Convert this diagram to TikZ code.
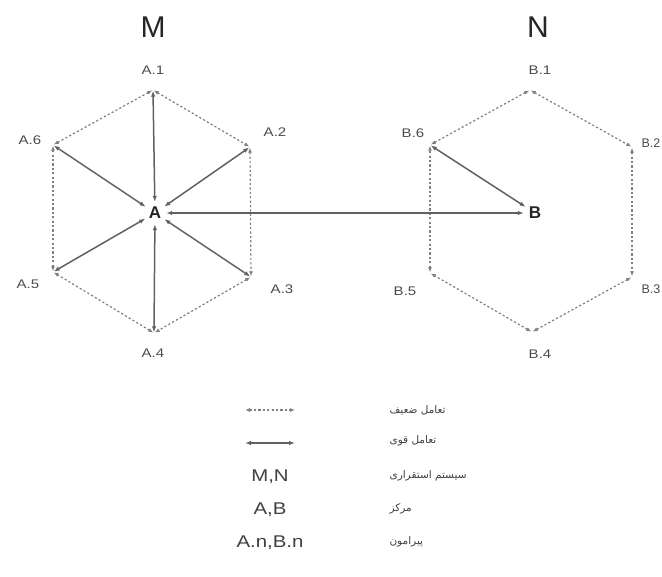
\documentclass[tikz,border=0pt]{standalone}
\usepackage{fontspec}
\setmainfont{Liberation Sans}
\newfontfamily\lblfont[FakeStretch=1.2]{Liberation Sans}
\newfontfamily\arabicfont[Script=Arabic]{DejaVu Sans}
\TeXXeTstate=1
\usetikzlibrary{arrows.meta}
\begin{document}
\begin{tikzpicture}[x=1pt,y=-1pt,
  vtx/.style={inner sep=0pt, minimum size=1pt},
  ctr/.style={circle, inner sep=0pt, minimum size=22pt, font=\bfseries\fontsize{17}{17}\selectfont, text=black!85},
  lbl/.style={font=\lblfont\fontsize{12.5}{12.5}\selectfont, text=black!70},
  ttl/.style={font=\fontsize{30}{30}\selectfont, text=black!85},
  strong/.style={draw=black!62, line width=1.5pt, {Latex[length=6pt,width=4.5pt]}-{Latex[length=6pt,width=4.5pt]}},
  weak/.style={draw=black!50, line width=1.2pt, dash pattern=on 2.2pt off 2.2pt, {Latex[length=5pt,width=4pt]}-{Latex[length=5pt,width=4pt]}},
  leg/.style={font=\lblfont\fontsize{17}{17}\selectfont, text=black!75},
  fa/.style={font=\arabicfont\fontsize{10.5}{10.5}\selectfont, text=black!75, anchor=west}
]
\useasboundingbox[fill=white] (0,0) rectangle (662,577);

% titles
\node[ttl] (M) at (153,27) {M};
\node[ttl] (N) at (538,27) {N};

% system M
\node[ctr] (A) at (155,213) {A};
\node[vtx] (A1) at (153,90) {};
\node[vtx] (A2) at (250,147) {};
\node[vtx] (A3) at (251,277) {};
\node[vtx] (A4) at (154,333) {};
\node[vtx] (A5) at (53,272) {};
\node[vtx] (A6) at (53,145) {};
\node[lbl] (lA1) at (153,70) {A.1};
\node[lbl] (lA2) at (275,132) {A.2};
\node[lbl] (lA3) at (282,289) {A.3};
\node[lbl] (lA4) at (153,353) {A.4};
\node[lbl] (lA5) at (28,284) {A.5};
\node[lbl] (lA6) at (30,140) {A.6};

\foreach \i in {1,...,6} \draw[strong] (A) -- (A\i);
\draw[weak] (A1) -- (A2);
\draw[weak] (A2) -- (A3);
\draw[weak] (A3) -- (A4);
\draw[weak] (A4) -- (A5);
\draw[weak] (A5) -- (A6);
\draw[weak] (A6) -- (A1);

% system N
\node[ctr] (B) at (535,213) {B};
\node[vtx] (B1) at (530,90) {};
\node[vtx] (B2) at (632,147) {};
\node[vtx] (B3) at (632,277) {};
\node[vtx] (B4) at (532,332) {};
\node[vtx] (B5) at (430,273) {};
\node[vtx] (B6) at (430,145) {};
\node[lbl] (lB1) at (540,70) {B.1};
\node[lbl, anchor=west, font=\fontsize{12.5}{12.5}\selectfont] (lB2) at (638,143) {B.2};
\node[lbl, anchor=west, font=\fontsize{12.5}{12.5}\selectfont] (lB3) at (638,289) {B.3};
\node[lbl] (lB4) at (540,354) {B.4};
\node[lbl] (lB5) at (405,291) {B.5};
\node[lbl] (lB6) at (413,133) {B.6};

\draw[weak] (B1) -- (B2);
\draw[weak] (B2) -- (B3);
\draw[weak] (B3) -- (B4);
\draw[weak] (B4) -- (B5);
\draw[weak] (B5) -- (B6);
\draw[weak] (B6) -- (B1);
\draw[strong] (B6) -- (B);
\draw[strong] (A) -- (B);

% legend
\coordinate (w1) at (245,410);
\coordinate (w2) at (295,410);
\coordinate (s1) at (245,443);
\coordinate (s2) at (295,443);
\draw[weak] (w1) -- (w2);
\draw[strong] (s1) -- (s2);
\node[leg] (gMN) at (270,477) {M,N};
\node[leg] (gAB) at (270,510) {A,B};
\node[leg] (gAn) at (270,543) {A.n,B.n};
\node[fa] (f1) at (386,410) {\beginR تعامل ضعیف\endR};
\node[fa] (f2) at (386,441) {\beginR تعامل قوی\endR};
\node[fa] (f3) at (386,476) {\beginR سیستم استقراری\endR};
\node[fa] (f4) at (386,509) {\beginR مرکز\endR};
\node[fa] (f5) at (386,542) {\beginR پیرامون\endR};
\end{tikzpicture}
\end{document}
